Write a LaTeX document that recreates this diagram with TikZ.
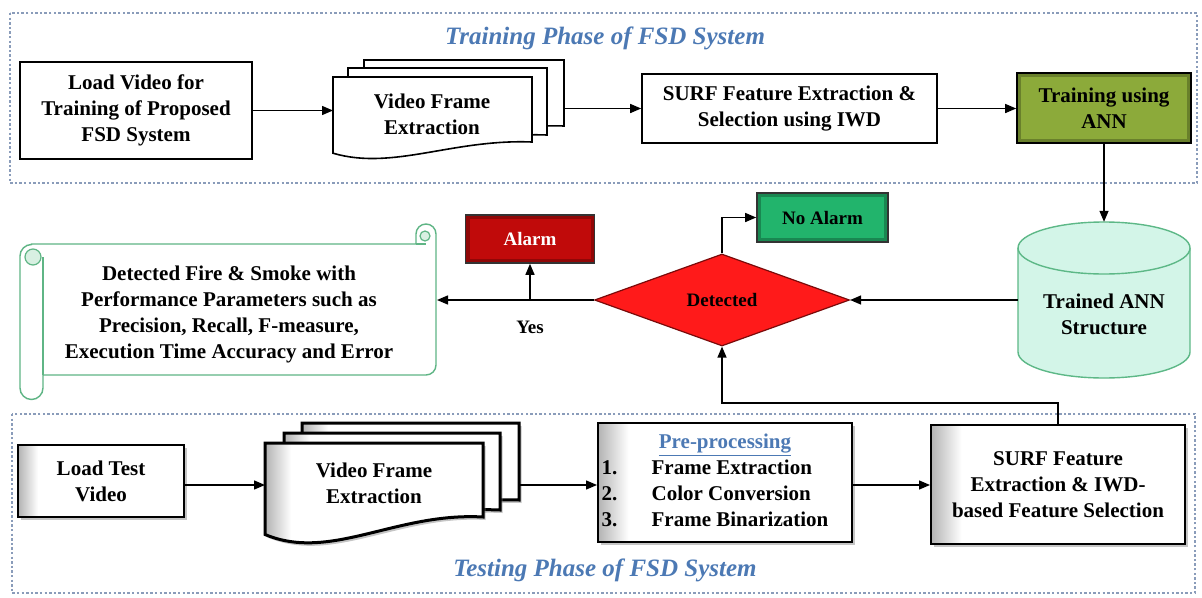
\documentclass[tikz,border=0pt]{standalone}
\usepackage{fontspec}
\setmainfont{Liberation Serif}
\usetikzlibrary{arrows.meta,calc,shadows,shapes.geometric}
\definecolor{frameblue}{HTML}{8A9CBA}
\definecolor{titleblue}{HTML}{4C79B4}
\definecolor{olivemid}{HTML}{8CAA3A}
\definecolor{olivedark}{HTML}{4F6522}
\definecolor{alarmred}{HTML}{C00A0A}
\definecolor{alarmdark}{HTML}{6A0000}
\definecolor{nogreen}{HTML}{22B46C}
\definecolor{nodark}{HTML}{0B6E3C}
\definecolor{diared}{HTML}{FF1A1A}
\definecolor{diaedge}{HTML}{7A0A0A}
\definecolor{cylfill}{HTML}{D3F5E8}
\definecolor{cylline}{HTML}{5DB887}
\definecolor{scrollline}{HTML}{5FB585}
\definecolor{scrollfill}{HTML}{D8F0E2}
\pgfdeclarehorizontalshading{bevelshade}{100bp}{color(0bp)=(black!30); color(25bp)=(black!30); color(31bp)=(white); color(100bp)=(white)}
\newcommand\docshape[6]{%
  \draw[#6] (#1,#2) -- (#3,#2) -- (#3,#4) .. controls ({#3-0.4*(#3-#1)},{#4-0.2*#5}) and ({#1+0.3*(#3-#1)},{#4+1.8*#5}) .. (#1,{#4+0.7*#5}) -- cycle;}
\begin{document}
\begin{tikzpicture}[x=1pt,y=-1pt,
  txt/.style={font=\bfseries\fontsize{21}{26}\selectfont, align=center, inner sep=0pt},
  box/.style={txt, draw, line width=1.6pt, fill=white},
  tbox/.style={txt, draw, line width=2pt, shade, shading=bevelshade,
     drop shadow={shadow xshift=2.5pt, shadow yshift=-3pt, opacity=.45}},
  bevel/.style={fill=#1, path picture={\draw[#1!55!black, line width=8pt, opacity=.55]
     (path picture bounding box.south west) rectangle (path picture bounding box.north east);}},
  arr/.style={line width=1.4pt, -{Triangle[length=11pt,width=9pt]}},
  phase/.style={draw=frameblue, line width=2.6pt, dash pattern=on 2.4pt off 2.2pt},
  ttl/.style={text=titleblue, font=\bfseries\itshape\fontsize{25}{29}\selectfont, inner sep=0pt},
  small/.style={font=\bfseries\fontsize{19}{23}\selectfont, inner sep=0pt, align=center},
  topdoc/.style={line width=1.6pt, fill=white},
  botdoc/.style={line width=3pt, shade, shading=bevelshade,
     drop shadow={shadow xshift=2.5pt, shadow yshift=-3pt, opacity=.45}}]
\useasboundingbox (0,0) rectangle (1202,597);
\fill[white] (0,0) rectangle (1202,597);

% ---------- phase frames ----------
\draw[phase] (10,13) rectangle (1197,183);
\draw[phase] (12,414) rectangle (1195,593);
\node[ttl] (ttrain) at (605,38) {Training Phase of FSD System};
\node[ttl] (ttest) at (605,570) {Testing Phase of FSD System};

% ---------- training phase ----------
\node[box, minimum width=232pt, minimum height=97pt] (load) at (136,110.5)
  {Load Video for\\Training of Proposed\\FSD System};
\docshape{364}{60}{564}{126}{14}{topdoc}
\docshape{348}{68}{547}{135}{15}{topdoc}
\docshape{333}{77}{532}{142}{16}{topdoc}
\node[txt] (vfe1) at (432,114) {Video Frame\\Extraction};
\coordinate (vfe1in) at (333,110.5);
\coordinate (vfe1out) at (564,108.5);
\node[box, minimum width=295pt, minimum height=69pt] (surf) at (789.5,108.5)
  {SURF Feature Extraction \&\\Selection using IWD};
\node[txt, draw=black, line width=1.6pt, bevel=olivemid,
  minimum width=174pt, minimum height=70pt] (train) at (1104,108) {Training using\\ANN};

% ---------- middle ----------
\fill[cylfill] (1018,248) -- (1018,352) arc[start angle=180,end angle=0,x radius=86,y radius=26]
  -- (1190,248) -- cycle;
\draw[cylline, line width=1.4pt] (1018,248) -- (1018,352) arc[start angle=180,end angle=0,x radius=86,y radius=26]
  -- (1190,248);
\draw[cylline, line width=1.4pt, fill=cylfill] (1104,248) ellipse[x radius=86, y radius=26];
\node[minimum width=172pt, minimum height=156pt, inner sep=0pt] (cyl) at (1104,300) {};
\node[txt] (cyltext) at (1104,314) {Trained ANN\\Structure};

\node[diamond, draw=diaedge, line width=1.2pt, fill=diared,
  minimum width=255pt, minimum height=92pt, inner sep=0pt] (dia) at (722,300) {};
\node[small] (diatext) at (722,300) {Detected};

\node[small, draw=black!80, line width=1.6pt, bevel=nogreen,
  minimum width=131pt, minimum height=49pt] (noal) at (822.5,217.5) {No Alarm};
\node[small, text=white, draw=black!80, line width=1.6pt, bevel=alarmred,
  minimum width=129pt, minimum height=48pt] (alarm) at (530,239) {Alarm};
\node[small] (yes) at (530,327) {Yes};

% scroll
\draw[scrollline, line width=1.4pt, fill=white]
  (31.5,244) -- (416,244) -- (416,234) arc[start angle=180,end angle=360,radius=10]
  -- (436,365) arc[start angle=0,end angle=90,radius=10] -- (43,375) -- (43,388)
  arc[start angle=0,end angle=180,radius=11.5] -- (20,256)
  arc[start angle=180,end angle=270,radius=11.5] -- cycle;
\draw[scrollline, line width=1.2pt, fill=scrollfill] (33,257) circle[radius=8];
\draw[scrollline, line width=1.2pt] (43,257) -- (43,375);
\draw[scrollline, line width=1.2pt, fill=scrollfill] (425,236) circle[radius=5];
\draw[scrollline, line width=1.2pt] (416,244) -- (426,244);
\node[txt] (res) at (229,314)
  {Detected Fire \& Smoke with\\Performance Parameters such as\\Precision, Recall, F-measure,\\Execution Time Accuracy and Error};
\coordinate (resedge) at (437,309);

% ---------- testing phase ----------
\node[tbox, minimum width=166pt, minimum height=72pt] (loadt) at (101,481) {Load Test\\Video};
\docshape{302}{423}{519}{500}{18}{botdoc}
\docshape{284}{433}{500}{510}{20}{botdoc}
\docshape{265}{443}{483}{517}{25}{botdoc}
\node[txt] (vfe2) at (374,483) {Video Frame\\Extraction};
\coordinate (vfe2in) at (265,485);
\coordinate (vfe2out) at (519,485);
\node[tbox, minimum width=254pt, minimum height=119pt] (pre) at (725,482.5)
  {\begin{tabular}{@{}p{50pt}@{}l@{\hspace{20pt}}}
   \multicolumn{2}{c}{\textcolor{titleblue}{\underline{Pre-processing}}}\\
   1. & Frame Extraction\\
   2. & Color Conversion\\
   3. & Frame Binarization
   \end{tabular}};
\node[tbox, minimum width=254pt, minimum height=119pt] (surf2) at (1058,484.5)
  {SURF Feature\\Extraction \& IWD-\\based Feature Selection};

% ---------- connectors ----------
\draw[arr] (load.east) -- (vfe1in);
\draw[arr] (vfe1out) -- (vfe1out -| surf.west);
\draw[arr] (surf.east) -- (surf.east -| train.west);
\draw[arr] (train.south) -- (cyl.north);
\draw[arr] (cyl.west) -- (dia.east);
\draw[arr] (dia.north) |- (noal.west);
\draw[arr] (dia.west) -- (dia.west -| resedge);
\draw[arr] (alarm.south |- dia.west) -- (alarm.south);
\draw[arr] (vfe2in -| loadt.east) -- (vfe2in);
\draw[arr] (vfe2out) -- (vfe2out -| pre.west);
\draw[arr] (pre.east |- vfe2out) -- (vfe2out -| surf2.west);
\draw[arr] (surf2.north) -- ++(0,-21) -| (dia.south);
\end{tikzpicture}
\end{document}
